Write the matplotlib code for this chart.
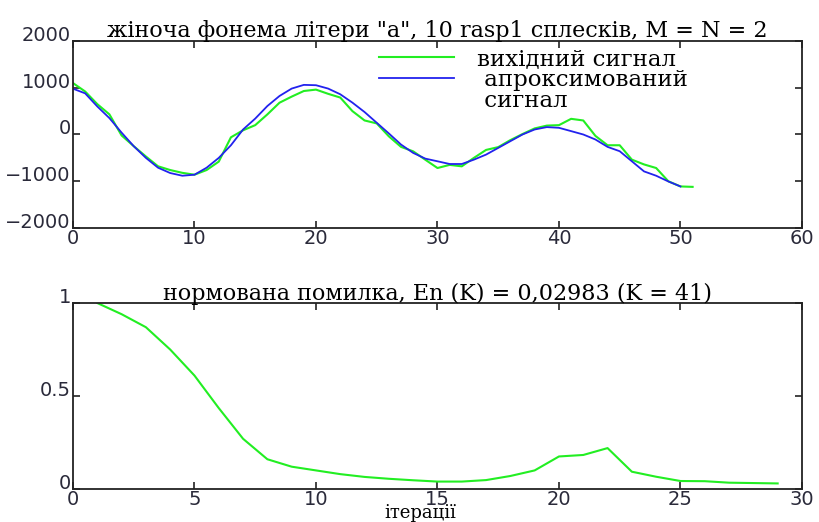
import matplotlib
matplotlib.use("Agg")
import matplotlib.pyplot as plt
from matplotlib.lines import Line2D
import numpy as np

# ---- data ----
x_signal = list(range(0, 52))
original = [1100, 920, 650, 430, -20, -250, -470, -680, -760, -820,
            -860, -760, -580, -60, 90, 200, 430, 680, 810, 930,
            960, 870, 790, 500, 300, 237, -40, -265, -360, -540,
            -717, -650, -681, -500, -330, -270, -120, 10, 130, 190,
            200, 335, 300, -30, -230, -230, -538, -640, -717, -1000,
            -1111, -1120]
x_approx = list(range(0, 51))
approx = [980, 880, 600, 350, 40, -250, -500, -710, -824, -882,
          -860, -710, -500, -230, 107, 340, 609, 824, 982, 1061,
          1054, 982, 860, 681, 480, 251, 22, -215, -394, -516,
          -573, -631, -631, -538, -430, -287, -143, 0, 107, 158,
          143, 72, 0, -107, -265, -358, -573, -789, -882, -1004,
          -1111]

iterations = list(range(1, 30))
norm_error = [1.0, 0.94, 0.87, 0.75, 0.61, 0.435, 0.27, 0.16, 0.12, 0.10,
              0.08, 0.065, 0.055, 0.047, 0.04, 0.04, 0.048, 0.07, 0.10, 0.175,
              0.183, 0.22, 0.093, 0.066, 0.043, 0.042, 0.034, 0.032, 0.03]

title_top = 'жіноча фонема літери "а", 10 rasp1 сплесків, M = N = 2'
title_bottom = 'нормована помилка, En (K) = 0,02983 (K = 41)'
legend_labels = ['вихідний сигнал', ' апроксимований', ' сигнал']
xlabel_bottom = 'ітерації'

GREEN = '#22ee22'
BLUE = '#2222ee'
SERIF = 'DejaVu Serif'
SANS = 'DejaVu Sans'

fig = plt.figure(figsize=(8.2, 5.22), dpi=100)
ax1 = fig.add_axes([0.089, 0.5632, 0.889, 0.3583])
ax2 = fig.add_axes([0.089, 0.0632, 0.889, 0.3563])

def style(ax):
    for s in ax.spines.values():
        s.set_linewidth(1.3)
        s.set_color('#222222')
    ax.tick_params(direction='in', length=5, width=1.2, top=True, right=True,
                   labelsize=14, color='#222222', pad=1.5)
    ax.tick_params(axis='x', pad=0.5)
    for lab in ax.get_xticklabels() + ax.get_yticklabels():
        lab.set_family(SANS)
        lab.set_color('#2a2a3a')
    for lab in ax.get_yticklabels():
        lab.set_verticalalignment('baseline')

l1, = ax1.plot(x_signal, original, color=GREEN, lw=1.5)
l2, = ax1.plot(x_approx, approx, color=BLUE, lw=1.3)
ax1.set_xlim(0, 60)
ax1.set_ylim(-2000, 2000)
ax1.set_xticks(range(0, 61, 10))
ax1.set_yticks(range(-2000, 2001, 1000))
style(ax1)
ax1.set_title(title_top, family=SERIF, fontsize=16, pad=3)
empty = Line2D([], [], color='none')
ax1.legend([l1, l2, empty], legend_labels, loc='upper left',
           bbox_to_anchor=(0.391, 1.07), frameon=False,
           prop={'family': SERIF, 'size': 16.5}, handlelength=3.3,
           handletextpad=1.0, labelspacing=-0.05, borderpad=0.4)

ax2.plot(iterations, norm_error, color=GREEN, lw=1.5)
ax2.set_xlim(0, 30)
ax2.set_ylim(0, 1)
ax2.set_xticks(range(0, 31, 5))
ax2.set_yticks([0, 0.5, 1])
ax2.set_yticklabels(['0', '0.5', '1'])
style(ax2)
ax2.set_title(title_bottom, family=SERIF, fontsize=16, pad=2)
fig.text(420 / 820, 0.0, xlabel_bottom, family=SERIF, fontsize=13,
         ha='center', va='bottom')

fig.savefig('out.png', dpi=100)
